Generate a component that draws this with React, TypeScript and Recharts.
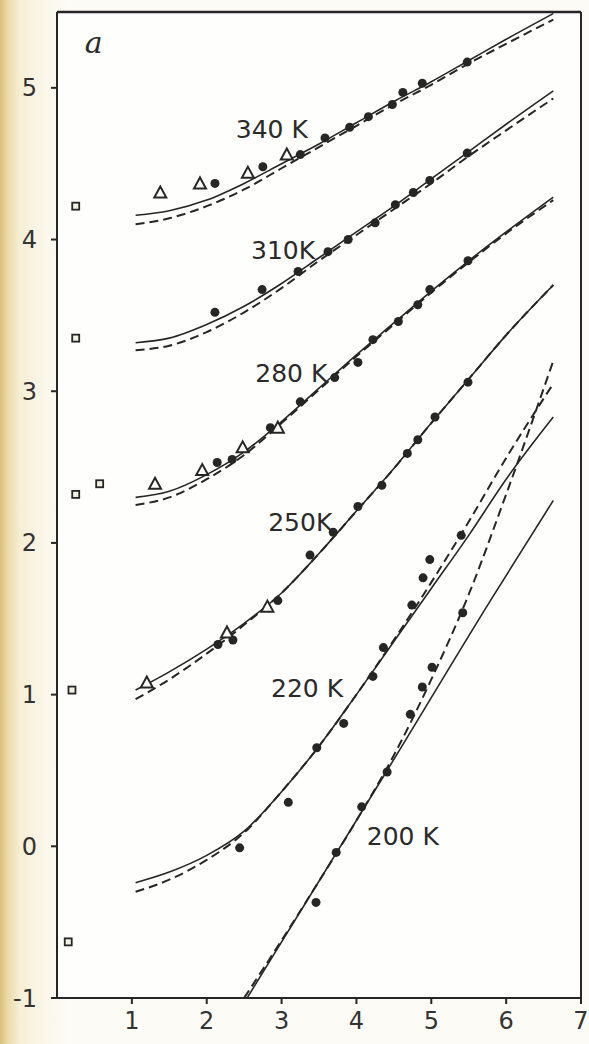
import React from "react"
import { ComposedChart, Line, Scatter, XAxis, YAxis, ReferenceLine, ReferenceDot } from "recharts"

// fitted curves, all sampled on the same x grid
const fitX = [1.05, 1.5, 2, 2.5, 3, 3.5, 4, 4.5, 5, 5.5, 6, 6.63]
const solid340 = [4.16, 4.19, 4.26, 4.37, 4.5, 4.63, 4.77, 4.91, 5.04, 5.18, 5.32, 5.49]
const dash340 = [4.1, 4.14, 4.22, 4.33, 4.47, 4.61, 4.75, 4.89, 5.02, 5.16, 5.29, 5.45]
const solid310 = [3.32, 3.35, 3.44, 3.56, 3.71, 3.88, 4.05, 4.22, 4.4, 4.58, 4.76, 4.98]
const dash310 = [3.27, 3.3, 3.39, 3.52, 3.68, 3.86, 4.03, 4.2, 4.37, 4.55, 4.72, 4.93]
const solid280 = [2.3, 2.34, 2.45, 2.6, 2.8, 3.02, 3.24, 3.45, 3.66, 3.86, 4.05, 4.28]
const dash280 = [2.25, 2.3, 2.42, 2.58, 2.79, 3.01, 3.23, 3.44, 3.65, 3.85, 4.04, 4.26]
const solid250 = [1.03, 1.15, 1.3, 1.47, 1.67, 1.93, 2.21, 2.49, 2.79, 3.08, 3.37, 3.7]
const dash250 = [0.97, 1.1, 1.27, 1.46, 1.67, 1.93, 2.21, 2.49, 2.79, 3.08, 3.37, 3.7]
const solid220 = [-0.24, -0.17, -0.06, 0.1, 0.36, 0.66, 1.0, 1.35, 1.7, 2.05, 2.42, 2.83]
const dash220 = [-0.3, -0.22, -0.09, 0.09, 0.36, 0.66, 1.0, 1.36, 1.74, 2.14, 2.56, 3.05]

// 200 K has its own sampling
const line200X = [2.54, 4.41, 5.79, 6.63]
const line200 = [-1, 0.5, 1.62, 2.28]
const dash200X = [2.5, 3, 3.5, 4, 4.5, 5, 5.5, 6, 6.63]
const dash200 = [-1, -0.62, -0.23, 0.17, 0.6, 1.1, 1.66, 2.32, 3.2]

// measured points
const circles: [number, number][] = [
  // 340 K
  [2.11, 4.37], [2.75, 4.48], [3.25, 4.56], [3.58, 4.67], [3.91, 4.74], [4.16, 4.81],
  [4.48, 4.89], [4.62, 4.97], [4.88, 5.03], [5.48, 5.17],
  // 310 K
  [2.11, 3.52], [2.74, 3.67], [3.22, 3.79], [3.62, 3.92], [3.89, 4.0], [4.25, 4.11],
  [4.52, 4.23], [4.76, 4.31], [4.98, 4.39], [5.48, 4.57],
  // 280 K
  [2.14, 2.53], [2.34, 2.55], [2.85, 2.76], [3.25, 2.93], [3.71, 3.09], [4.02, 3.19],
  [4.22, 3.34], [4.56, 3.46], [4.82, 3.57], [4.98, 3.67], [5.49, 3.86],
  // 250 K
  [2.15, 1.33], [2.35, 1.36], [2.95, 1.62], [3.38, 1.92], [3.69, 2.07], [4.02, 2.24],
  [4.34, 2.38], [4.68, 2.59], [4.82, 2.68], [5.05, 2.83], [5.49, 3.06],
  // 220 K
  [2.44, -0.01], [3.09, 0.29], [3.47, 0.65], [3.83, 0.81], [4.22, 1.12], [4.36, 1.31],
  [4.74, 1.59], [4.89, 1.77], [4.98, 1.89], [5.4, 2.05],
  // 200 K
  [3.46, -0.37], [3.73, -0.04], [4.07, 0.26], [4.41, 0.49], [4.72, 0.87], [4.88, 1.05],
  [5.01, 1.18], [5.42, 1.54],
]
const triangles: [number, number][] = [
  [1.38, 4.31], [1.91, 4.37], [2.55, 4.44], [3.07, 4.56],
  [1.31, 2.39], [1.94, 2.48], [2.48, 2.63], [2.95, 2.76],
  [1.2, 1.08], [2.27, 1.41], [2.81, 1.58],
]
const squares: [number, number][] = [
  [0.25, 4.22], [0.25, 3.35], [0.25, 2.32], [0.57, 2.39], [0.2, 1.03], [0.15, -0.63],
]

const curveLabels = [
  { text: "340 K", x: 2.87, y: 4.73 },
  { text: "310K", x: 3.02, y: 3.93 },
  { text: "280 K", x: 3.13, y: 3.12 },
  { text: "250K", x: 3.25, y: 2.14 },
  { text: "220 K", x: 3.34, y: 1.04 },
  { text: "200 K", x: 4.62, y: 0.07 },
]
const xTicks = [1, 2, 3, 4, 5, 6, 7]
const yTicks = [-1, 0, 1, 2, 3, 4, 5]

const ink = "#262626"
const font = "'DejaVu Sans', sans-serif"

const pts = (xs: number[], ys: number[]) => xs.map((x, i) => ({ x, y: ys[i] }))
const toObj = (arr: [number, number][]) => arr.map(([x, y]) => ({ x, y }))

const Dot = (p: any) => <circle cx={p.cx} cy={p.cy} r={4.5} fill={ink} />
const Tri = (p: any) => (
  <polygon
    points={`${p.cx},${p.cy - 6} ${p.cx - 6},${p.cy + 5} ${p.cx + 6},${p.cy + 5}`}
    fill="#fff"
    stroke={ink}
    strokeWidth={2}
  />
)
const Sq = (p: any) => (
  <rect x={p.cx - 3.5} y={p.cy - 3.5} width={7} height={7} fill="#f3f0e4" stroke={ink} strokeWidth={1.8} />
)

const series: [number[], number[], boolean][] = [
  [fitX, solid340, false], [fitX, dash340, true],
  [fitX, solid310, false], [fitX, dash310, true],
  [fitX, solid280, false], [fitX, dash280, true],
  [fitX, solid250, false], [fitX, dash250, true],
  [fitX, solid220, false], [fitX, dash220, true],
  [line200X, line200, false], [dash200X, dash200, true],
]

export default function App() {
  return (
    <div
      style={{
        position: "fixed",
        left: 0,
        top: 0,
        width: 589,
        height: 1044,
        background: "linear-gradient(to right, #d8c07a 0px, #eadbaa 8px, #f6efd6 20px, #faf7ea 45px, #fcfbf6 70px)",
      }}
    >
      <ComposedChart width={589} height={1044} margin={{ top: 12, right: 8, bottom: 0, left: 0 }}>
        <rect x={57} y={12} width={524} height={986} fill="#fefefc" />
        <XAxis
          type="number"
          dataKey="x"
          domain={[0, 7]}
          ticks={xTicks}
          height={46}
          tickSize={6}
          tickMargin={8}
          stroke={ink}
          strokeWidth={2}
          tick={{ fontSize: 24, fill: "#333", fontFamily: font }}
          allowDataOverflow
        />
        <YAxis
          type="number"
          dataKey="y"
          domain={[-1, 5.5]}
          ticks={yTicks}
          width={57}
          tickSize={6}
          tickMargin={14}
          stroke={ink}
          strokeWidth={2}
          tick={{ fontSize: 24, fill: "#333", fontFamily: font }}
          allowDataOverflow
        />
        <ReferenceLine y={5.5} stroke={ink} strokeWidth={2.5} />
        <ReferenceLine x={7} stroke={ink} strokeWidth={2} />

        {series.map(([xs, ys, dashed], i) => (
          <Line
            key={i}
            data={pts(xs, ys)}
            dataKey="y"
            type="monotone"
            stroke={ink}
            strokeWidth={dashed ? 2 : 1.6}
            strokeDasharray={dashed ? "9 5" : undefined}
            dot={false}
            activeDot={false}
            isAnimationActive={false}
          />
        ))}

        <Scatter data={toObj(circles)} dataKey="y" shape={Dot} isAnimationActive={false} />
        <Scatter data={toObj(triangles)} dataKey="y" shape={Tri} isAnimationActive={false} />
        <Scatter data={toObj(squares)} dataKey="y" shape={Sq} isAnimationActive={false} />

        {curveLabels.map((l) => (
          <ReferenceDot
            key={l.text}
            x={l.x}
            y={l.y}
            r={0}
            fill="none"
            stroke="none"
            label={{ value: l.text, position: "center", fontSize: 25, fill: "#2a2a2a", fontFamily: font }}
          />
        ))}
        <ReferenceDot
          x={0.49}
          y={5.3}
          r={0}
          fill="none"
          stroke="none"
          label={{ value: "a", position: "center", fontSize: 30, fill: "#2a2a2a", fontStyle: "italic", fontFamily: "'DejaVu Serif', serif" }}
        />
      </ComposedChart>
    </div>
  )
}
